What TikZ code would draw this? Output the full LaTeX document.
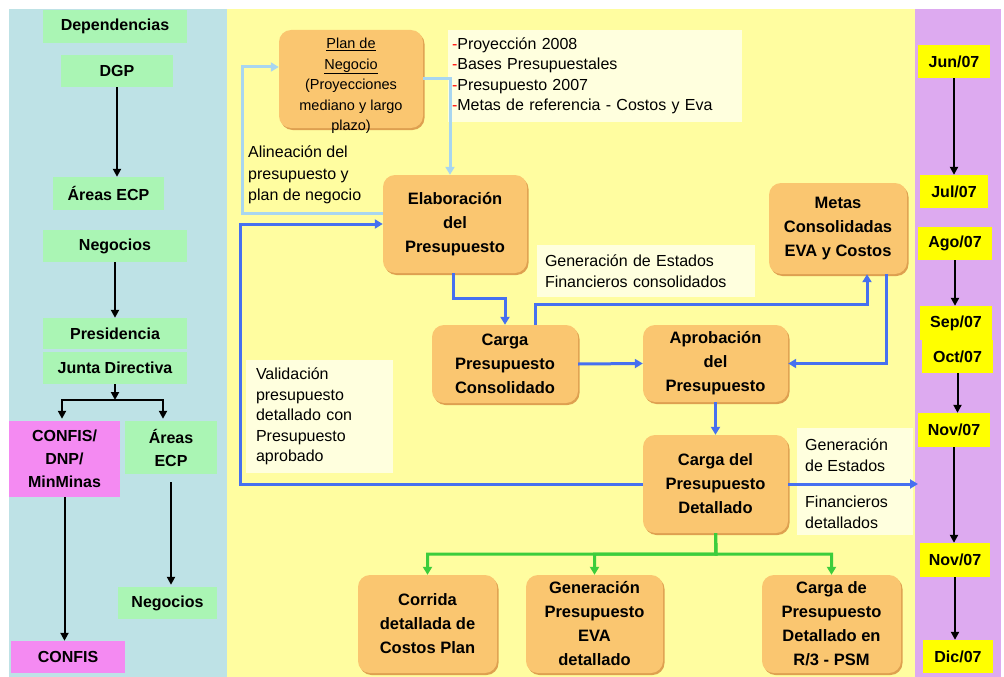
\documentclass[tikz,border=0pt]{standalone}
\usepackage{fontspec}
\setmainfont{Liberation Sans}
\usetikzlibrary{arrows.meta,shadows,calc}
\definecolor{lpanel}{RGB}{190,226,230}
\definecolor{mpanel}{RGB}{255,253,160}
\definecolor{rpanel}{RGB}{221,170,240}
\definecolor{gbox}{RGB}{170,245,180}
\definecolor{pbox}{RGB}{244,138,242}
\definecolor{obox}{RGB}{250,198,112}
\definecolor{oshadow}{RGB}{222,160,80}
\definecolor{cream}{RGB}{255,255,222}
\definecolor{bline}{RGB}{70,112,240}
\definecolor{lbline}{RGB}{168,214,240}
\definecolor{gline}{RGB}{60,205,60}
\definecolor{mbox}{RGB}{255,255,0}
\begin{document}
\begin{tikzpicture}[x=1pt,y=-1pt,
  lbl/.style={font=\bfseries\fontsize{16}{23}\selectfont, align=center, inner sep=0pt},
  gnode/.style={lbl, fill=gbox},
  pnode/.style={lbl, fill=pbox},
  onode/.style={font=\bfseries\fontsize{16.5}{24}\selectfont, align=center, fill=obox,
    rounded corners=12pt, inner sep=0pt,
    drop shadow={shadow xshift=1.5pt,shadow yshift=-2pt,fill=oshadow,opacity=1}},
  mnode/.style={font=\bfseries\fontsize{16}{19}\selectfont, fill=mbox, inner sep=0pt},
  note/.style={font=\fontsize{16}{20.5}\selectfont, align=left, fill=cream, inner ysep=0pt},
  plain/.style={font=\fontsize{16}{21.5}\selectfont, align=left, inner sep=0pt},
  karr/.style={line width=2pt, -{Triangle[width=8pt,length=8pt]}},
  barr/.style={draw=bline, line width=3pt, -{Triangle[width=9pt,length=8pt]}},
  lbarr/.style={draw=lbline, line width=3pt, -{Triangle[width=9pt,length=8pt]}},
  garr/.style={draw=gline, line width=3pt, -{Triangle[width=9pt,length=8pt]}},
]
\useasboundingbox (0,0) rectangle (1004,677);
\fill[white] (0,0) rectangle (1004,677);
% panels
\fill[lpanel] (9,9) rectangle (227,677);
\fill[mpanel] (227,9) rectangle (915,677);
\fill[rpanel] (915,9) rectangle (1001,677);

% ---------- left panel ----------
\node[gnode, minimum width=144pt, minimum height=33pt] (dep) at (115,26.5) {Dependencias};
\node[gnode, minimum width=112pt, minimum height=32pt] (dgp) at (117,71) {DGP};
\node[gnode, minimum width=111pt, minimum height=33pt] (areas1) at (108.5,193.5) {Áreas ECP};
\node[gnode, minimum width=144pt, minimum height=32pt] (neg1) at (115,246) {Negocios};
\node[gnode, minimum width=144pt, minimum height=31pt] (pres) at (115,333.5) {Presidencia};
\node[gnode, minimum width=144pt, minimum height=32pt] (junta) at (115,368) {Junta Directiva};
\node[pnode, minimum width=111pt, minimum height=76pt] (confis1) at (64.5,459) {CONFIS/\\DNP/\\MinMinas};
\node[gnode, minimum width=92pt, minimum height=53pt] (areas2) at (171,447.5) {Áreas\\ECP};
\node[gnode, minimum width=99pt, minimum height=32pt] (neg2) at (167.5,603) {Negocios};
\node[pnode, minimum width=114pt, minimum height=32pt] (confis2) at (68,657) {CONFIS};
\coordinate (jb) at (115,400);

\draw[karr] (dgp.south) -- (dgp.south |- areas1.north);
\draw[karr] (neg1.south) -- (pres.north);
\draw[karr] (junta.south) -- (jb);
\draw[karr, shorten >=2pt] (jb) -| ([xshift=-2.5pt]confis1.north);
\draw[karr, shorten >=2pt] (jb) -| ([xshift=-8pt]areas2.north);
\draw[karr] (confis1.south) -- (confis1.south |- confis2.north);
\draw[karr, shorten <=8pt, shorten >=2pt] (areas2.south) -- (areas2.south |- neg2.north);

% ---------- middle panel ----------
\node[onode, minimum width=144pt, minimum height=98pt] (plan) at (351,79) {};
\node[font=\fontsize{14.5}{20.5}\selectfont, align=center, inner sep=0pt] (plantxt) at (351,86)
  {\underline{Plan de}\\\underline{Negocio}\\(Proyecciones\\mediano y largo\\plazo)};
\node[note, minimum width=294pt, minimum height=92pt, inner xsep=4pt, text width=286pt] (lista) at (595,76)
  {{\color{red}-}Proyección 2008\\{\color{red}-}Bases Presupuestales\\{\color{red}-}Presupuesto 2007\\{\color{red}-}Metas de referencia - Costos y Eva};
\node[plain, anchor=west] (alin) at (248,175) {Alineación del\\presupuesto y\\plan de negocio};

\node[onode, minimum width=144pt, minimum height=98pt] (elab) at (455,224) {Elaboración\\del\\Presupuesto};
\node[onode, minimum width=146pt, minimum height=78pt] (carga) at (505,364) {Carga\\Presupuesto\\Consolidado};
\node[onode, minimum width=138pt, minimum height=91pt] (metas) at (838,228.5) {Metas\\Consolidadas\\EVA y Costos};
\node[onode, minimum width=145pt, minimum height=77pt] (aprob) at (715.5,363.5) {Aprobación\\del\\Presupuesto};
\node[onode, minimum width=145pt, minimum height=98pt] (cdet) at (715.5,484) {Carga del\\Presupuesto\\Detallado};
\node[onode, minimum width=139pt, minimum height=98pt] (corrida) at (427.5,624) {Corrida\\detallada de\\Costos Plan};
\node[onode, minimum width=137pt, minimum height=98pt] (genp) at (594.5,624) {Generación\\Presupuesto\\EVA\\detallado};
\node[onode, minimum width=139pt, minimum height=98pt] (cargar3) at (831.5,624) {Carga de\\Presupuesto\\Detallado en\\R/3 - PSM};

\node[note, minimum width=218pt, minimum height=52pt, inner xsep=8pt, text width=202pt] (genest) at (646,271)
  {Generación de Estados\\Financieros consolidados};
\node[note, minimum width=147pt, minimum height=113pt, inner xsep=10pt, text width=127pt] (valid) at (319.5,416.5)
  {Validación\\presupuesto\\detallado con\\Presupuesto\\aprobado};
\node[fill=cream, minimum width=116pt, minimum height=107pt, inner sep=0pt] (gendet) at (855,481.5) {};
\node[plain, font=\fontsize{16}{21}\selectfont, anchor=west] (gendetA) at (805,455.5) {Generación\\de Estados};
\node[plain, font=\fontsize{16}{21}\selectfont, anchor=west] (gendetB) at (805,512) {Financieros\\detallados};

\coordinate (al) at (242,140);
\coordinate (e2) at (480,298);
\coordinate (c1) at (700,304);
\coordinate (tp) at (918,484);
\coordinate (vb) at (240,350);
\coordinate (gj) at (716,554);

\draw[lbarr] (plan.east) -| ([xshift=-5pt]elab.north);
\draw[lbarr] ([yshift=11pt]elab.west) -| (al) |- ([yshift=12pt]plan.west);
\draw[barr] ([xshift=-2pt]elab.south) |- (e2) -| (carga.north);
\draw[barr] ([xshift=30pt]carga.north) |- (c1) -| ([xshift=29pt]metas.south);
\draw[barr] ([xshift=48pt]metas.south) |- (aprob.east);
\draw[barr] (carga.east) -- (aprob.west);
\draw[barr] (aprob.south) -- (cdet.north);
\draw[barr] (cdet.east) -- (tp);
\draw[barr] (cdet.west) -| (vb) |- (elab.west);
\draw[garr] (cdet.south) -- (gj) -| (corrida.north);
\draw[garr] (cdet.south) -- (gj) -| (genp.north);
\draw[garr] (cdet.south) -- (gj) -| (cargar3.north);

% ---------- right panel ----------
\node[mnode, minimum width=72pt, minimum height=33pt] (jun) at (954,61.5) {Jun/07};
\node[mnode, minimum width=68pt, minimum height=33pt] (jul) at (954,191.5) {Jul/07};
\node[mnode, minimum width=74pt, minimum height=33pt] (ago) at (955,243.5) {Ago/07};
\node[mnode, minimum width=72pt, minimum height=34pt] (sep) at (956,323) {Sep/07};
\node[mnode, minimum width=71pt, minimum height=33pt] (oct) at (957.5,356.5) {Oct/07};
\node[mnode, minimum width=72pt, minimum height=34pt] (nov1) at (954,430) {Nov/07};
\node[mnode, minimum width=70pt, minimum height=34pt] (nov2) at (955,560) {Nov/07};
\node[mnode, minimum width=70pt, minimum height=33pt] (dic) at (958,656.5) {Dic/07};

\draw[karr] (jun.south) -- (jun.south |- jul.north);
\draw[karr] (ago.south) -- (ago.south |- sep.north);
\draw[karr] (oct.south) -- (oct.south |- nov1.north);
\draw[karr] (nov1.south) -- (nov1.south |- nov2.north);
\draw[karr] (nov2.south) -- (nov2.south |- dic.north);
\end{tikzpicture}
\end{document}
